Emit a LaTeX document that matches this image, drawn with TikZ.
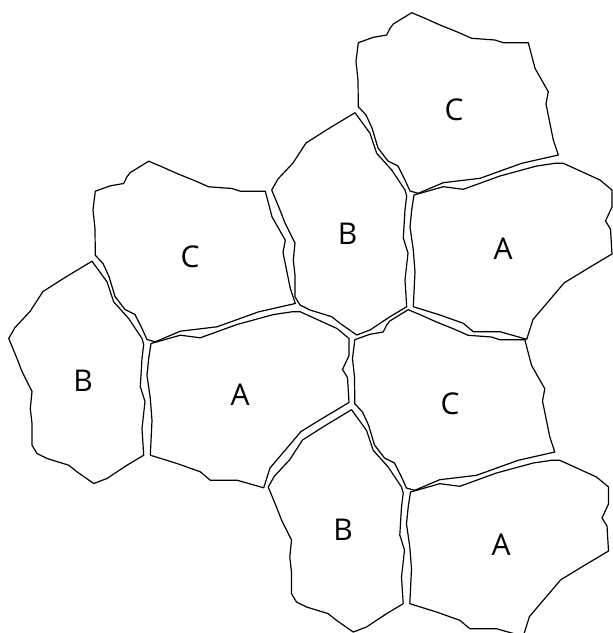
\documentclass[tikz,border=0pt]{standalone}
\usepackage{fontspec}
\setmainfont{Open Sans}
\tikzset{
  stone/.style={draw=black, line width=1.2pt, line join=round},
  lbl/.style={font=\fontsize{30}{30}\selectfont, inner sep=0pt, anchor=center},
  stoneA/.pic={\draw[stone] (414,195) -- (443.3,186.7) -- (463.3,189.3) -- (500,176) -- (536.7,166) -- (555,163.3) -- (563.3,163.3) -- (600,180) -- (612,190) -- (612,207) -- (605.5,221) -- (610.5,229) -- (612,254) -- (586,269.5) -- (564,283) -- (553,296) -- (533,319.5) -- (526.7,339.3) -- (500,331.7) -- (473.3,331.7) -- (463.3,323.3) -- (440,315) -- (413.3,306.7) -- (415,272) -- (413.3,250) -- (410,227) -- (411.7,210) -- cycle;},
  stoneB/.pic={\draw[stone] (355,112.7) -- (370,133.3) -- (376.7,153.3) -- (391.7,170) -- (405,190) -- (406.7,196) -- (405,210) -- (403.3,238) -- (408,253) -- (405,280) -- (406.7,306.7) -- (390,316.7) -- (370,330) -- (356.7,335) -- (340,323.3) -- (331.7,316.7) -- (310,310) -- (300,305) -- (295,296.7) -- (295,275) -- (293.3,260) -- (295,243) -- (285,223) -- (280,210) -- (271.7,190) -- (278,179) -- (293,163) -- (306,143) -- (328,129) -- cycle;},
  stoneC/.pic={\draw[stone] (411.7,12.7) -- (425,18.3) -- (440,25) -- (456.7,31.7) -- (471.7,38.3) -- (495,40) -- (503.3,42.7) -- (528.3,42.7) -- (535,68.3) -- (548.3,91.7) -- (546,104) -- (553.3,140) -- (558.3,155) -- (521.7,163.3) -- (480,178.3) -- (443.3,182.7) -- (430,188.3) -- (418.3,193.3) -- (410,191) -- (405,180) -- (398,166) -- (388,161) -- (378,148) -- (372,128) -- (366,115) -- (358.3,106.7) -- (358,80) -- (356,61.5) -- (358.3,42.7) -- (373.3,37.3) -- (386.7,35) -- (390,28.3) -- (393.3,24) -- cycle;},
}
\begin{document}
\begin{tikzpicture}[x=1pt,y=-1pt]
\useasboundingbox (0,0) rectangle (613,633);
\clip (0,0) rectangle (613,633);
% stones of type C
\pic at (0,0) {stoneC};
\pic at (-263,148.5) {stoneC};
\pic at (-3.5,297) {stoneC};
% stones of type B
\pic at (0,0) {stoneB};
\pic at (-263,148.5) {stoneB};
\pic at (-3.5,297) {stoneB};
% stones of type A
\pic at (0,0) {stoneA};
\pic at (-263,148.5) {stoneA};
\pic at (-3.5,297) {stoneA};
% labels
\node[lbl] (c1) at (454,110) {C};
\node[lbl] (b1) at (347.5,234) {B};
\node[lbl] (a1) at (503,248.5) {A};
\node[lbl] (c2) at (190,257) {C};
\node[lbl] (b2) at (83,381) {B};
\node[lbl] (a2) at (240,395) {A};
\node[lbl] (c3) at (450,404) {C};
\node[lbl] (b3) at (343,530) {B};
\node[lbl] (a3) at (501,545) {A};
\end{tikzpicture}
\end{document}
